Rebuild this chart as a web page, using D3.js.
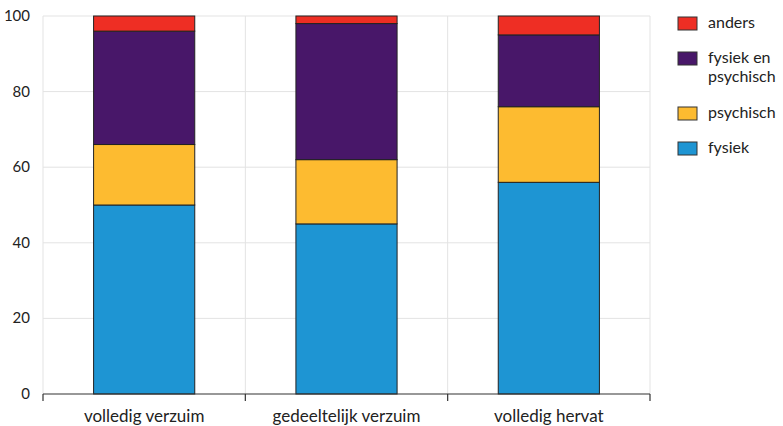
<!DOCTYPE html>
<html><head><meta charset="utf-8">
<script src="https://cdn.jsdelivr.net/npm/d3@7"></script>
<style>body{margin:0;background:#fff}svg{display:block}text{font-family:Lato,"Open Sans",sans-serif;fill:#222}</style>
</head><body><svg id="c" width="783" height="426"></svg>
<script>
const categories = ["volledig verzuim", "gedeeltelijk verzuim", "volledig hervat"];
const seriesNames = ["fysiek", "psychisch", "fysiek en psychisch", "anders"];
const fysiek = [50, 45, 56];
const psychisch = [16, 17, 20];
const fysiekEnPsychisch = [30, 36, 19];
const anders = [4, 2, 5];
const yTicks = [0, 20, 40, 60, 80, 100];
const colors = ["#1E95D3", "#FDBB30", "#481769", "#EE2E24"];

const svg = d3.select("#c");
const m = {l: 43, r: 650, t: 16, b: 394};
const x = d3.scaleBand().domain(categories).range([m.l, m.r]).paddingInner(0.5).paddingOuter(0.25);
const y = d3.scaleLinear().domain([0, 100]).range([m.b, m.t]);

const table = categories.map((c, i) => ({cat: c, fysiek: fysiek[i], psychisch: psychisch[i], "fysiek en psychisch": fysiekEnPsychisch[i], anders: anders[i]}));
const stacked = d3.stack().keys(seriesNames)(table);

// grid
const g = svg.append("g");
g.selectAll("line.h").data(yTicks.filter(d => d > 0)).join("line")
  .attr("x1", m.l).attr("x2", m.r).attr("y1", d => y(d)).attr("y2", d => y(d))
  .attr("stroke", "#e3e3e3").attr("stroke-width", 1);
const bounds = [m.l, ...categories.map(c => x(c) - x.step()*x.paddingInner()/2 + x.step())];
g.selectAll("line.v").data(bounds).join("line")
  .attr("x1", d => d).attr("x2", d => d).attr("y1", m.t).attr("y2", m.b)
  .attr("stroke", "#e3e3e3").attr("stroke-width", 1);

// bars
svg.append("g").selectAll("g").data(stacked).join("g")
  .attr("fill", (d, i) => colors[i])
  .selectAll("rect").data(d => d).join("rect")
  .attr("x", d => x(d.data.cat)).attr("width", x.bandwidth())
  .attr("y", d => y(d[1])).attr("height", d => y(d[0]) - y(d[1]))
  .attr("stroke", "#222").attr("stroke-width", 1);

// y labels
svg.append("g").selectAll("text").data(yTicks).join("text")
  .attr("x", 30).attr("y", d => y(d) + 5).attr("text-anchor", "end")
  .attr("font-size", 15).text(d => d);

// x axis
svg.append("line").attr("x1", m.l).attr("x2", m.r).attr("y1", m.b).attr("y2", m.b).attr("stroke", "#333").attr("stroke-width", 1.2);
svg.append("g").selectAll("line").data(bounds).join("line")
  .attr("x1", d => d).attr("x2", d => d).attr("y1", m.b).attr("y2", m.b + 7).attr("stroke", "#333").attr("stroke-width", 1.2);
svg.append("g").selectAll("text").data(categories).join("text")
  .attr("x", d => x(d) + x.bandwidth()/2).attr("y", 422).attr("text-anchor", "middle")
  .attr("font-size", 17).text(d => d);

// legend
const legend = [
  {c: 3, ys: 17, lines: ["anders"], ty: 28},
  {c: 2, ys: 52, lines: ["fysiek en", "psychisch"], ty: 63},
  {c: 1, ys: 107, lines: ["psychisch"], ty: 118},
  {c: 0, ys: 142, lines: ["fysiek"], ty: 153}
];
const lg = svg.append("g").selectAll("g").data(legend).join("g");
lg.append("rect").attr("x", 678).attr("y", d => d.ys).attr("width", 19).attr("height", 13)
  .attr("fill", d => colors[d.c]).attr("stroke", "#333").attr("stroke-width", 1);
lg.selectAll("text").data(d => d.lines.map((t, i) => ({t, y: d.ty + i * 19}))).join("text")
  .attr("x", 708).attr("y", d => d.y).attr("font-size", 16).text(d => d.t);
</script></body></html>
